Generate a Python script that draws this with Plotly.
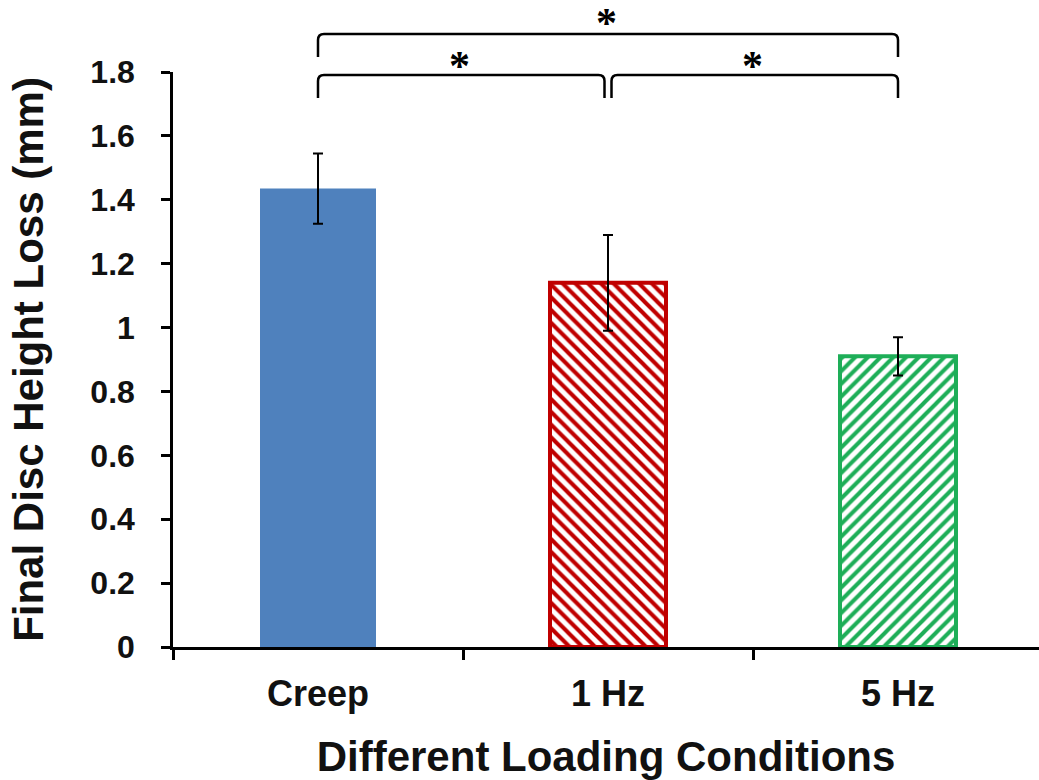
import plotly.graph_objects as go

# ---- data ----
categories = ["Creep", "1 Hz", "5 Hz"]
height_loss = [1.435, 1.14, 0.91]
height_loss_err = [0.11, 0.15, 0.06]
y_ticks = [0, 0.2, 0.4, 0.6, 0.8, 1, 1.2, 1.4, 1.6, 1.8]
# significance brackets: (left category index, right category index, level)
sig_pairs = [(0, 1, "low"), (1, 2, "low"), (0, 2, "high")]
sig_label = "*"

# ---- style ----
fill_colors = ["#4F81BD", "white", "white"]
line_colors = ["#4F81BD", "#C00000", "#1EAE58"]
line_widths = [0, 4, 4]
pattern_shapes = ["", "\\", "/"]

FONT = "Liberation Sans, Arial, sans-serif"
W, H = 1039, 780
L, R, T, B = 173, 0, 72, 133
PLOT_H = H - T - B
PX_PER_CAT = 290.0
x_lo = -0.5
x_hi = x_lo + (W - L - R) / PX_PER_CAT

xs = list(range(len(categories)))

fig = go.Figure()
for i in xs:
    marker = dict(color=fill_colors[i],
                  line=dict(color=line_colors[i], width=line_widths[i]))
    if pattern_shapes[i]:
        marker["pattern"] = dict(shape=pattern_shapes[i], fgcolor=line_colors[i],
                                 bgcolor="white", size=9, solidity=0.45,
                                 fillmode="replace")
    fig.add_trace(go.Bar(
        x=[xs[i]],
        y=[height_loss[i]],
        width=0.4,
        name=categories[i],
        marker=marker,
        error_y=dict(type="data", array=[height_loss_err[i]], visible=True,
                     color="black", thickness=2, width=5),
        showlegend=False,
    ))


def py(px_from_top):
    """convert pixel offset from top of figure into paper y"""
    return (H - B - px_from_top) / PLOT_H


levels = {"low": (75, 98, 61), "high": (34, 57, 18)}
rx = 6 / PX_PER_CAT
ry = 6 / PLOT_H
gap = 3.5 / PX_PER_CAT
for a, b, lev in sig_pairs:
    top_px, bot_px, star_px = levels[lev]
    x0 = xs[a] + (gap if (lev == "low" and a > 0) else 0)
    x1 = xs[b] - (gap if (lev == "low" and b < len(xs) - 1) else 0)
    yt, yb = py(top_px), py(bot_px)
    path = (f"M {x0},{yb} L {x0},{yt - ry} Q {x0},{yt} {x0 + rx},{yt} "
            f"L {x1 - rx},{yt} Q {x1},{yt} {x1},{yt - ry} L {x1},{yb}")
    fig.add_shape(type="path", path=path, xref="x", yref="paper",
                  line=dict(color="black", width=2.5))
    fig.add_annotation(x=(x0 + x1) / 2, y=py(star_px), xref="x", yref="paper",
                       text=sig_label, showarrow=False, yanchor="middle",
                       yshift=-5, xshift=-2,
                       font=dict(family="Liberation Serif, Times New Roman, serif",
                                 size=42, color="black", weight="bold"))

fig.update_layout(
    width=W, height=H,
    margin=dict(l=L, r=R, t=T, b=B, autoexpand=False),
    paper_bgcolor="white", plot_bgcolor="white",
    barmode="overlay",
    showlegend=False,
    xaxis=dict(
        range=[x_lo, x_hi],
        tickmode="array", tickvals=xs, ticktext=categories,
        ticks="", showgrid=False, zeroline=False,
        showline=True, linecolor="black", linewidth=2.5,
        tickfont=dict(family=FONT, size=36, color="#111", weight="bold"),
        ticklabelstandoff=13,
        minor=dict(tickmode="array",
                   tickvals=[i - 0.5 for i in range(len(categories) + 1)],
                   ticks="outside", ticklen=10, tickwidth=2.5, tickcolor="black",
                   showgrid=False),
        title=dict(text="Different Loading Conditions", standoff=29,
                   font=dict(family=FONT, size=42, color="#111", weight="bold")),
        automargin=False,
    ),
    yaxis=dict(
        range=[0, 1.8],
        tickmode="array", tickvals=y_ticks,
        ticktext=[f"{v:g}" for v in y_ticks],
        ticks="outside", ticklen=9, tickwidth=2.5, tickcolor="black",
        showgrid=False, zeroline=False,
        showline=True, linecolor="black", linewidth=2.5,
        tickfont=dict(family=FONT, size=32, color="#111", weight="bold"),
        ticklabelstandoff=20,
        title=dict(text="Final Disc Height Loss (mm)", standoff=34,
                   font=dict(family=FONT, size=42, color="#111", weight="bold")),
        automargin=False,
    ),
)

fig.write_html("out.html")
